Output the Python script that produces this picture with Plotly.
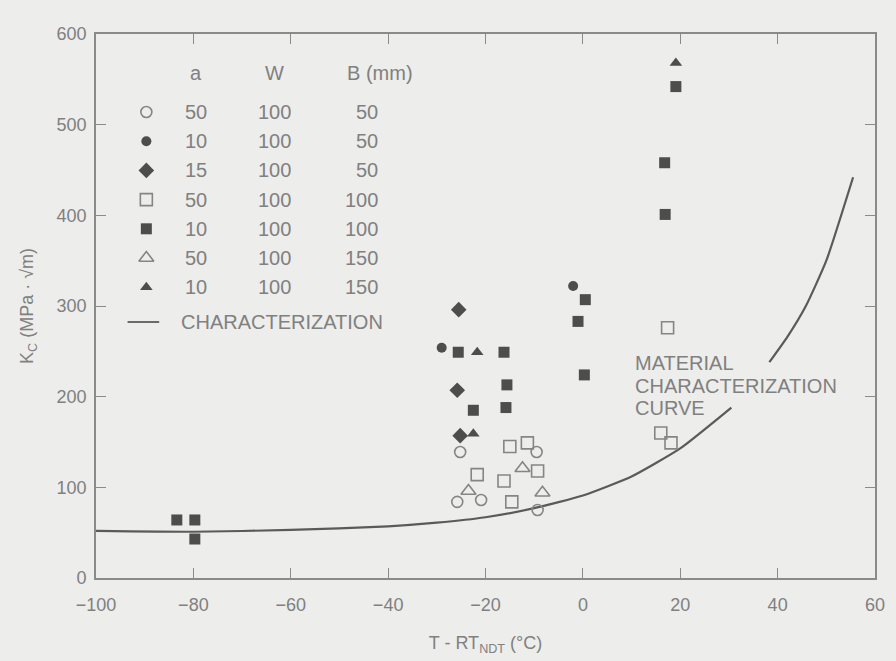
import plotly.graph_objects as go

# ---------------- data ----------------
# a=50, W=100, B=50  (open circles)
oc_x = [-25.2, -25.8, -20.9, -9.5, -9.3]
oc_y = [139, 84, 86, 139, 75]
# a=10, W=100, B=50  (filled circles)
fc_x = [-29.0, -2.0]
fc_y = [254, 322]
# a=15, W=100, B=50  (filled diamonds)
fd_x = [-25.5, -25.8, -25.2]
fd_y = [296, 207, 157]
# a=50, W=100, B=100 (open squares)
os_x = [-15.0, -11.4, -9.3, -21.7, -16.2, -14.6, 17.4, 16.0, 18.1]
os_y = [145, 149, 118, 114, 107, 84, 276, 160, 149]
# a=10, W=100, B=100 (filled squares)
fs_x = [-25.6, -16.2, -15.6, -22.5, -15.8, 0.5, -1.0, 0.3, 19.1, 16.8, 16.9, -83.4, -79.7, -79.7]
fs_y = [249, 249, 213, 185, 188, 307, 283, 224, 542, 458, 401, 64, 64, 43]
# a=50, W=100, B=150 (open triangles)
ot_x = [-12.4, -23.5, -8.3]
ot_y = [121, 96, 94]
# a=10, W=100, B=150 (filled triangles)
ft_x = [-21.7, -22.5, 19.1]
ft_y = [249, 159, 568]
# material characterization curve (gap where the label crosses it)
curve_x = [-100, -80, -60, -40, -30, -20, -10, 0, 10, 20, 30.5, None, 38.3, 42, 45.8, 50, 55.5]
curve_y = [52, 51, 53, 57, 61, 67, 77, 91, 112, 143, 188, None, 238, 266, 300, 350, 442]

x_ticks = [-100, -80, -60, -40, -20, 0, 20, 40, 60]
y_ticks = [0, 100, 200, 300, 400, 500, 600]

legend_a = ["50", "10", "15", "50", "10", "50", "10"]
legend_w = ["100", "100", "100", "100", "100", "100", "100"]
legend_b = ["50", "50", "50", "100", "100", "150", "150"]

# ---------------- styles ----------------
BG = "#ededeb"
TXT = "#808080"
AX = "#8a8a8a"
DARK = "#4d4d4d"
OPEN = "#858585"
FONT = "Liberation Sans, Arial, sans-serif"

styles = [
    dict(symbol="circle-open", size=11, color=OPEN, line=dict(width=1.6, color=OPEN)),
    dict(symbol="circle", size=10, color=DARK),
    dict(symbol="diamond", size=12, color=DARK),
    dict(symbol="square-open", size=12, color=OPEN, line=dict(width=1.6, color=OPEN)),
    dict(symbol="square", size=11, color=DARK),
    dict(symbol="triangle-up-open", size=13, color=OPEN, line=dict(width=1.6, color=OPEN)),
    dict(symbol="triangle-up", size=11, color=DARK),
]
series = [(oc_x, oc_y), (fc_x, fc_y), (fd_x, fd_y), (os_x, os_y),
          (fs_x, fs_y), (ot_x, ot_y), (ft_x, ft_y)]

fig = go.Figure()
fig.add_trace(go.Scatter(x=curve_x, y=curve_y, mode="lines", connectgaps=False,
                         line=dict(color="#5a5a5a", width=2.2, shape="spline", smoothing=0.5),
                         showlegend=False, hoverinfo="skip"))
for (xs, ys), st in zip(series, styles):
    fig.add_trace(go.Scatter(x=xs, y=ys, mode="markers", marker=st, showlegend=False))

# ---------------- in-plot legend table (overlay axes in pixel units) ----------------
L, R, T, B = 96, 885, 34, 578
row_y = [112 + 29.2 * i for i in range(7)]
sym_x = 147
for yy, st in zip(row_y, styles):
    fig.add_trace(go.Scatter(x=[sym_x], y=[yy], xaxis="x2", yaxis="y2", mode="markers",
                             marker=st, showlegend=False, hoverinfo="skip"))
fig.add_trace(go.Scatter(x=[128, 160], y=[322, 322], xaxis="x2", yaxis="y2", mode="lines",
                         line=dict(color="#6a6a6a", width=2), showlegend=False, hoverinfo="skip"))

ann = []
def txt(x, y, s, size=20, xanchor="center", ref="2"):
    ann.append(dict(x=x, y=y, xref="x" + ref, yref="y" + ref, text=s, showarrow=False,
                    xanchor=xanchor, yanchor="middle", font=dict(size=size, color=TXT, family=FONT)))

txt(197, 73, "a")
txt(277, 73, "W")
txt(348, 73, "B (mm)", xanchor="left")
for yy, a, w, b in zip(row_y, legend_a, legend_w, legend_b):
    txt(197, yy, a)
    txt(277, yy, w)
    txt(384, yy, b, xanchor="right")
txt(180, 322, "CHARACTERIZATION", xanchor="left")
txt(640, 363, "MATERIAL", xanchor="left")
txt(640, 386, "CHARACTERIZATION", xanchor="left")
txt(640, 408, "CURVE", xanchor="left")

ann.append(dict(x=875, y=20, xref="x2", yref="y2", text="ORNL-DWG 91M-3663 ETD", showarrow=False,
                xanchor="right", yanchor="middle", font=dict(size=14, color="#8f8f8f", family=FONT)))

axis_common = dict(showline=True, linecolor=AX, linewidth=1.6, mirror="ticks", ticks="inside",
                   ticklen=10, tickwidth=1.4, tickcolor=AX, showgrid=False, zeroline=False,
                   tickfont=dict(size=18, color=TXT, family=FONT))

fig.update_layout(
    width=896, height=661,
    margin=dict(l=L, r=896 - R, t=T, b=661 - B),
    paper_bgcolor=BG, plot_bgcolor=BG,
    xaxis=dict(range=[-100, 60], tickvals=x_ticks, ticklabelstandoff=10,
               title=dict(text="T - RT<sub>NDT</sub> (°C)", font=dict(size=18, color=TXT, family=FONT), standoff=22),
               **axis_common),
    yaxis=dict(range=[0, 600], tickvals=y_ticks, ticklabelstandoff=4,
               title=dict(text="K<sub>C</sub> (MPa · √m)", font=dict(size=18, color=TXT, family=FONT), standoff=18),
               **axis_common),
    xaxis2=dict(range=[L, R], overlaying="x", visible=False, fixedrange=True),
    yaxis2=dict(range=[B, T], overlaying="y", visible=False, fixedrange=True),
    annotations=ann,
    showlegend=False,
)

fig.write_html("out.html")
